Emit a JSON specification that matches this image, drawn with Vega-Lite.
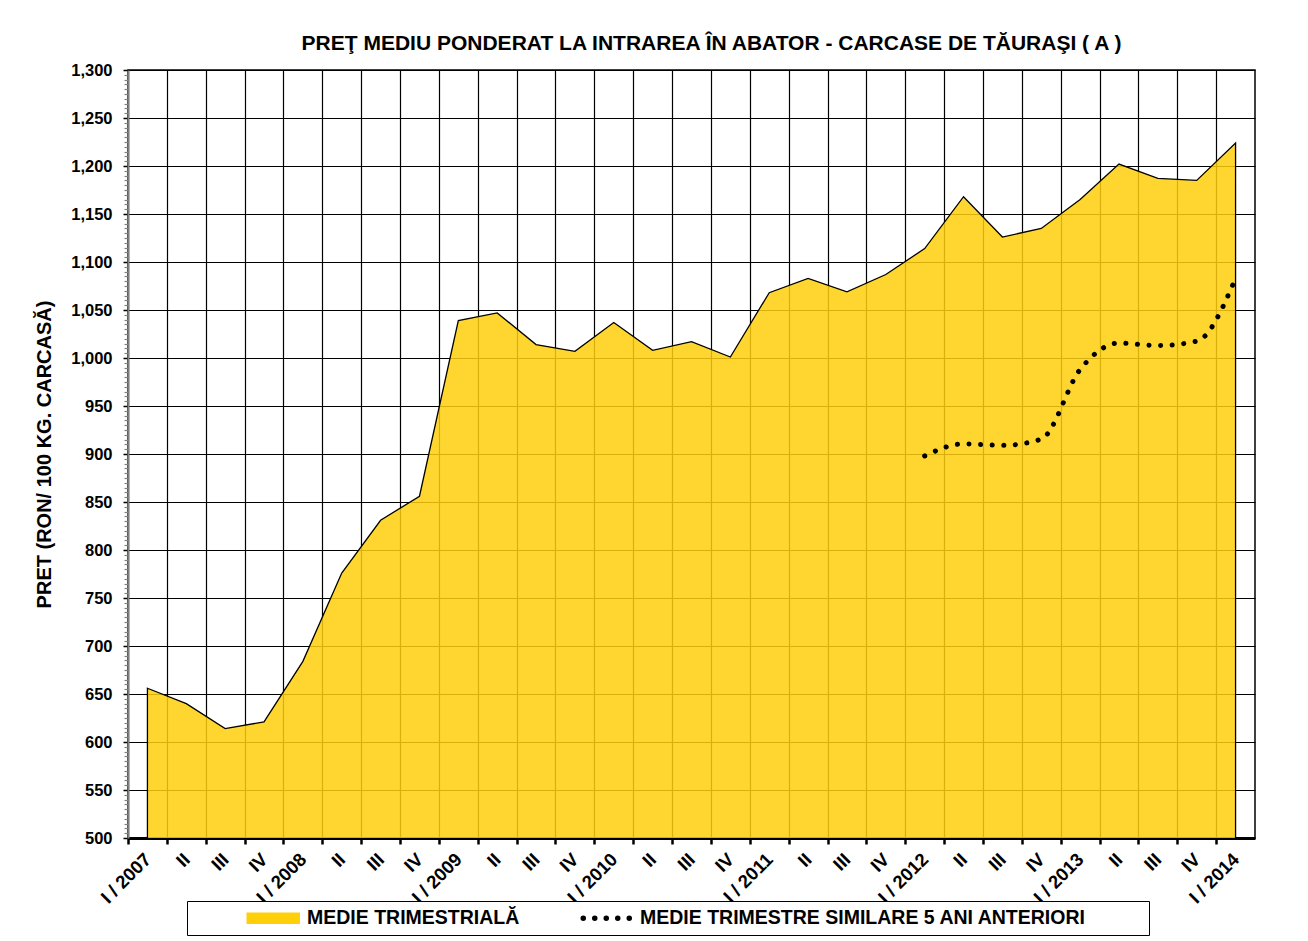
{
  "$schema": "https://vega.github.io/schema/vega-lite/v6.json",
  "width": 1127,
  "height": 768,
  "autosize": "none",
  "padding": {"left": 128, "top": 70, "right": 53, "bottom": 103},
  "background": "white",
  "config": {
    "font": "Liberation Sans",
    "view": {"stroke": "black", "strokeWidth": 1.5}
  },
  "title": {
    "text": "PREŢ MEDIU PONDERAT LA INTRAREA ÎN ABATOR - CARCASE DE TĂURAŞI ( A )",
    "fontSize": 21,
    "fontWeight": "bold",
    "color": "black",
    "dx": 20,
    "offset": 8
  },
  "data": {
    "values": [
      {"trimestru": "I / 2007", "pret": 656, "medie5": null},
      {"trimestru": "II / 2007", "pret": 640, "medie5": null},
      {"trimestru": "III / 2007", "pret": 614, "medie5": null},
      {"trimestru": "IV / 2007", "pret": 621, "medie5": null},
      {"trimestru": "I / 2008", "pret": 684, "medie5": null},
      {"trimestru": "II / 2008", "pret": 776, "medie5": null},
      {"trimestru": "III / 2008", "pret": 831, "medie5": null},
      {"trimestru": "IV / 2008", "pret": 856, "medie5": null},
      {"trimestru": "I / 2009", "pret": 1039, "medie5": null},
      {"trimestru": "II / 2009", "pret": 1047, "medie5": null},
      {"trimestru": "III / 2009", "pret": 1014, "medie5": null},
      {"trimestru": "IV / 2009", "pret": 1007, "medie5": null},
      {"trimestru": "I / 2010", "pret": 1037, "medie5": null},
      {"trimestru": "II / 2010", "pret": 1008, "medie5": null},
      {"trimestru": "III / 2010", "pret": 1017, "medie5": null},
      {"trimestru": "IV / 2010", "pret": 1001, "medie5": null},
      {"trimestru": "I / 2011", "pret": 1068, "medie5": null},
      {"trimestru": "II / 2011", "pret": 1083, "medie5": null},
      {"trimestru": "III / 2011", "pret": 1069, "medie5": null},
      {"trimestru": "IV / 2011", "pret": 1087, "medie5": null},
      {"trimestru": "I / 2012", "pret": 1114, "medie5": 898},
      {"trimestru": "II / 2012", "pret": 1168, "medie5": 910.5},
      {"trimestru": "III / 2012", "pret": 1126, "medie5": 909},
      {"trimestru": "IV / 2012", "pret": 1135, "medie5": 915.5},
      {"trimestru": "I / 2013", "pret": 1165, "medie5": 988},
      {"trimestru": "II / 2013", "pret": 1202, "medie5": 1015.5},
      {"trimestru": "III / 2013", "pret": 1187, "medie5": 1013},
      {"trimestru": "IV / 2013", "pret": 1185, "medie5": 1017.5},
      {"trimestru": "I / 2014", "pret": 1224, "medie5": 1083}
    ]
  },
  "layer": [
    {
      "mark": {"type": "area", "fillOpacity": 0.85, "stroke": "black", "strokeWidth": 1.3, "clip": true},
      "encoding": {
        "x": {
          "field": "trimestru",
          "type": "ordinal",
          "sort": null,
          "scale": {"type": "point", "padding": 0.5},
          "axis": {
            "title": null,
            "grid": true,
            "gridColor": "black",
            "gridWidth": 1.2,
            "domainColor": "black",
            "domainWidth": 3,
            "tickColor": "black",
            "tickWidth": 2.5,
            "tickSize": 6,
            "tickOffset": -19.43,
            "labelOffset": 19.43,
            "labelAngle": -45,
            "labelAlign": "right",
            "labelBaseline": "middle",
            "labelFontSize": 18.5,
            "labelFontWeight": "bold",
            "labelColor": "black",
            "labelPadding": 12,
            "labelOverlap": false,
            "labelExpr": "indexof(datum.value, 'I / ') === 0 ? datum.value : split(datum.value, ' / ')[0]"
          }
        },
        "y": {
          "field": "pret",
          "type": "quantitative",
          "scale": {"domain": [500, 1300], "nice": false, "zero": false},
          "axis": {
            "orient": "left",
            "title": "PRET (RON/  100 KG.  CARCASĂ)",
            "titleFontSize": 20,
            "titleFontWeight": "bold",
            "titleColor": "black",
            "titlePadding": 16,
            "values": [500, 550, 600, 650, 700, 750, 800, 850, 900, 950, 1000, 1050, 1100, 1150, 1200, 1250, 1300],
            "format": ",d",
            "grid": true,
            "gridColor": "black",
            "gridWidth": 1.2,
            "domainColor": "#808080",
            "domainWidth": 2,
            "tickColor": "black",
            "tickSize": 5,
            "tickWidth": 1.5,
            "labelFontSize": 16.5,
            "labelFontWeight": "bold",
            "labelColor": "black",
            "labelPadding": 11
          }
        },
        "color": {
          "datum": "MEDIE TRIMESTRIALĂ",
          "scale": {"domain": ["MEDIE TRIMESTRIALĂ", "MEDIE TRIMESTRE SIMILARE 5 ANI ANTERIORI"], "range": ["#FFCF0A", "black"]},
          "legend": {
            "orient": "none",
            "legendX": 59,
            "legendY": 831,
            "direction": "horizontal",
            "title": null,
            "padding": 7,
            "strokeColor": "black",
            "fillColor": "white",
            "labelFontSize": 19.5,
            "labelFontWeight": "bold",
            "labelColor": "black",
            "labelLimit": 700,
            "labelOffset": 24,
            "symbolOffset": 69.5,
            "symbolSize": 100,
            "symbolType": "M-5.2,-0.8H5.2V0.8H-5.2Z",
            "symbolStrokeColor": "black",
            "symbolStrokeWidth": 1.5,
            "symbolOpacity": 1,
            "columnPadding": 4,
            "encoding": {
              "symbols": {
                "shape": {"value": {"expr": "datum.index === 0 ? 'M-15.8,0M-5.2,-1H5.2V1H-5.2Z' : 'M-15.8,0M106.4,0M-5,0a0.4,0.4 0 1,0 0.8,0a0.4,0.4 0 1,0 -0.8,0M-2.7,0a0.4,0.4 0 1,0 0.8,0a0.4,0.4 0 1,0 -0.8,0M-0.4,0a0.4,0.4 0 1,0 0.8,0a0.4,0.4 0 1,0 -0.8,0M1.9,0a0.4,0.4 0 1,0 0.8,0a0.4,0.4 0 1,0 -0.8,0M4.2,0a0.4,0.4 0 1,0 0.8,0a0.4,0.4 0 1,0 -0.8,0'"}},
                "fill": {"value": {"expr": "datum.index === 0 ? '#FFD42E' : 'black'"}}
              }
            }
          }
        }
      }
    },
    {
      "mark": {"type": "line", "interpolate": "monotone", "strokeDash": [0.1, 11.5], "strokeCap": "round", "strokeWidth": 5},
      "encoding": {
        "x": {"field": "trimestru", "type": "ordinal", "sort": null},
        "y": {
          "field": "medie5",
          "type": "quantitative",
          "axis": {
            "orient": "left",
            "title": null,
            "labels": false,
            "grid": false,
            "domain": false,
            "tickColor": "#808080",
            "tickSize": 4,
            "tickWidth": 1.2,
            "values": [505, 510, 515, 520, 525, 530, 535, 540, 545, 555, 560, 565, 570, 575, 580, 585, 590, 595, 605, 610, 615, 620, 625, 630, 635, 640, 645, 655, 660, 665, 670, 675, 680, 685, 690, 695, 705, 710, 715, 720, 725, 730, 735, 740, 745, 755, 760, 765, 770, 775, 780, 785, 790, 795, 805, 810, 815, 820, 825, 830, 835, 840, 845, 855, 860, 865, 870, 875, 880, 885, 890, 895, 905, 910, 915, 920, 925, 930, 935, 940, 945, 955, 960, 965, 970, 975, 980, 985, 990, 995, 1005, 1010, 1015, 1020, 1025, 1030, 1035, 1040, 1045, 1055, 1060, 1065, 1070, 1075, 1080, 1085, 1090, 1095, 1105, 1110, 1115, 1120, 1125, 1130, 1135, 1140, 1145, 1155, 1160, 1165, 1170, 1175, 1180, 1185, 1190, 1195, 1205, 1210, 1215, 1220, 1225, 1230, 1235, 1240, 1245, 1255, 1260, 1265, 1270, 1275, 1280, 1285, 1290, 1295]
          }
        },
        "color": {"datum": "MEDIE TRIMESTRE SIMILARE 5 ANI ANTERIORI"}
      }
    }
  ],
  "resolve": {"axis": {"y": "independent"}}
}
